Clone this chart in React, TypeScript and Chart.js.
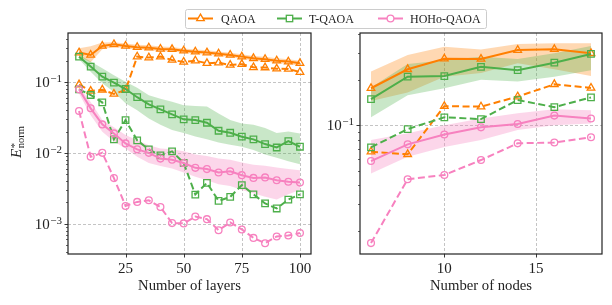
import React, { useEffect, useRef } from "react";
import { Chart, registerables } from "chart.js";
Chart.register(...registerables);

// ---------- data ----------
const layers = [5, 10, 15, 20, 25, 30, 35, 40, 45, 50, 55, 60, 65, 70, 75, 80, 85, 90, 95, 100];
const nodes = [6, 8, 10, 12, 14, 16, 18];
const layerTicks = [25, 50, 75, 100];
const nodeTicks = [10, 15];
const layersYMajor = [0.001, 0.01, 0.1];
const layersYMinor = [0.0004, 0.0005, 0.0006, 0.0007, 0.0008, 0.0009, 0.002, 0.003, 0.004, 0.005, 0.006, 0.007, 0.008, 0.009, 0.02, 0.03, 0.04, 0.05, 0.06, 0.07, 0.08, 0.09, 0.2, 0.3, 0.4];
const nodesYMajor = [0.1];
const nodesYMinor = [0.02, 0.03, 0.04, 0.05, 0.06, 0.07, 0.08, 0.09, 0.2, 0.3, 0.4];
const seriesNames = ["QAOA", "T-QAOA", "HOHo-QAOA"];

// left panel (vs number of layers)
const qaoaLayersMean = [0.26, 0.241, 0.323, 0.34, 0.323, 0.31, 0.305, 0.293, 0.29, 0.277, 0.268, 0.26, 0.251, 0.241, 0.228, 0.216, 0.21, 0.2, 0.194, 0.184];
const qaoaLayersUpper = [0.3, 0.32, 0.36, 0.365, 0.35, 0.335, 0.33, 0.316, 0.312, 0.298, 0.288, 0.28, 0.27, 0.259, 0.246, 0.233, 0.227, 0.216, 0.21, 0.2];
const qaoaLayersLower = [0.225, 0.19, 0.29, 0.315, 0.3, 0.288, 0.282, 0.272, 0.27, 0.258, 0.25, 0.242, 0.234, 0.225, 0.212, 0.201, 0.195, 0.186, 0.18, 0.17];
const qaoaLayersBest = [0.092, 0.0746, 0.0776, 0.068, 0.077, 0.228, 0.221, 0.228, 0.205, 0.192, 0.2, 0.184, 0.187, 0.174, 0.178, 0.161, 0.16, 0.154, 0.153, 0.138];

const tqaoaLayersMean = [0.228, 0.165, 0.119, 0.098, 0.0796, 0.061, 0.0484, 0.041, 0.0349, 0.0297, 0.029, 0.0266, 0.0205, 0.0192, 0.0169, 0.0155, 0.0133, 0.0119, 0.0146, 0.0122];
const tqaoaLayersUpper = [0.245, 0.195, 0.156, 0.125, 0.101, 0.083, 0.065, 0.058, 0.0527, 0.047, 0.046, 0.045, 0.036, 0.029, 0.026, 0.025, 0.0225, 0.019, 0.02, 0.0188];
const tqaoaLayersLower = [0.21, 0.14, 0.096, 0.072, 0.05, 0.04, 0.0306, 0.025, 0.021, 0.019, 0.017, 0.0155, 0.014, 0.013, 0.0122, 0.011, 0.0095, 0.0085, 0.0076, 0.0069];
const tqaoaLayersBest = [0.0788, 0.0655, 0.0516, 0.0155, 0.029, 0.015, 0.0112, 0.0092, 0.0105, 0.0072, 0.00258, 0.00377, 0.0021, 0.00239, 0.0035, 0.0026, 0.00193, 0.00164, 0.00219, 0.0026];

const hohoLayersMean = [0.0788, 0.0425, 0.0252, 0.0188, 0.0136, 0.0112, 0.01, 0.0083, 0.008, 0.0072, 0.00614, 0.0059, 0.00528, 0.0055, 0.00484, 0.00443, 0.0045, 0.00411, 0.0039, 0.0038];
const hohoLayersUpper = [0.086, 0.052, 0.029, 0.023, 0.0178, 0.015, 0.0128, 0.0115, 0.0112, 0.0105, 0.0095, 0.009, 0.0083, 0.008, 0.0073, 0.0068, 0.0066, 0.0062, 0.0059, 0.0057];
const hohoLayersLower = [0.069, 0.034, 0.0198, 0.0145, 0.0115, 0.0088, 0.0072, 0.0065, 0.006, 0.0053, 0.0046, 0.0041, 0.0036, 0.0034, 0.003, 0.0027, 0.0024, 0.0022, 0.0026, 0.003];
const hohoLayersBest = [0.0389, 0.0088, 0.01, 0.0044, 0.00178, 0.00203, 0.00214, 0.00172, 0.00102, 0.00101, 0.00126, 0.00116, 0.00081, 0.00104, 0.00083, 0.00063, 0.00053, 0.00066, 0.00068, 0.00074];

// right panel (vs number of nodes)
const qaoaNodesMean = [0.176, 0.235, 0.276, 0.275, 0.315, 0.319, 0.3];
const qaoaNodesUpper = [0.227, 0.292, 0.332, 0.318, 0.345, 0.35, 0.35];
const qaoaNodesLower = [0.145, 0.165, 0.21, 0.222, 0.258, 0.235, 0.212];
const qaoaNodesBest = [0.0669, 0.0643, 0.134, 0.133, 0.155, 0.187, 0.177];

const tqaoaNodesMean = [0.149, 0.21, 0.212, 0.244, 0.232, 0.26, 0.297];
const tqaoaNodesUpper = [0.178, 0.255, 0.27, 0.285, 0.275, 0.3, 0.335];
const tqaoaNodesLower = [0.113, 0.158, 0.176, 0.2, 0.195, 0.21, 0.232];
const tqaoaNodesBest = [0.0715, 0.0945, 0.113, 0.11, 0.147, 0.132, 0.153];

const hohoNodesMean = [0.058, 0.0748, 0.087, 0.097, 0.102, 0.116, 0.111];
const hohoNodesUpper = [0.08, 0.0885, 0.1, 0.111, 0.12, 0.128, 0.126];
const hohoNodesLower = [0.048, 0.062, 0.072, 0.08, 0.093, 0.1, 0.103];
const hohoNodesBest = [0.0166, 0.044, 0.0469, 0.0589, 0.076, 0.077, 0.0833];

// ---------- style ----------
const ORANGE = "#ff7f00";
const GREEN = "#4daf4a";
const PINK = "#f781bf";
const FONT = '"Liberation Serif", "DejaVu Serif", serif';
const INK = "#222222";

type Series = {
  mean: number[];
  upper: number[];
  lower: number[];
  best: number[];
  color: string;
  band: string;
  style: string;
  radius: number;
  rank: number;
};

function makeSeries(mean: number[], upper: number[], lower: number[], best: number[], k: number): Series {
  const colors = [ORANGE, GREEN, PINK];
  const bands = ["rgba(255,127,0,0.3)", "rgba(77,175,74,0.3)", "rgba(247,129,191,0.32)"];
  const styles = ["triangle", "rect", "circle"];
  const radii = [4.4, 4.6, 3.4];
  return { mean, upper, lower, best, color: colors[k], band: bands[k], style: styles[k], radius: radii[k], rank: 3 - k };
}

function buildDatasets(xs: number[], series: Series[]) {
  const pts = (arr: number[]) => arr.map((y, i) => ({ x: xs[i], y }));
  const ds: any[] = [];
  series.forEach((s) => {
    const base = {
      borderColor: s.color,
      borderWidth: 2,
      pointStyle: s.style,
      pointRadius: s.radius,
      pointBorderColor: s.color,
      pointBackgroundColor: "rgba(0,0,0,0)",
      pointBorderWidth: 1.3,
      fill: false,
      tension: 0,
      order: s.rank,
    };
    ds.push({ ...base, data: pts(s.mean) });
    ds.push({ ...base, data: pts(s.best), borderDash: [7, 3.5] });
  });
  series.forEach((s) => {
    const lowerIndex = ds.length;
    ds.push({ data: pts(s.lower), borderWidth: 0, borderColor: "rgba(0,0,0,0)", pointRadius: 0, fill: false, order: 10 + s.rank });
    ds.push({ data: pts(s.upper), borderWidth: 0, borderColor: "rgba(0,0,0,0)", pointRadius: 0, fill: lowerIndex, backgroundColor: s.band, order: 10 + s.rank });
  });
  return ds;
}

function axesPlugin(xMajor: number[], yMajor: number[], yMinor: number[], withTitle: boolean) {
  return {
    id: "axesDeco",
    beforeDatasetsDraw(chart: any) {
      const { ctx, chartArea: a, scales } = chart;
      ctx.save();
      ctx.strokeStyle = "rgba(176,176,176,0.95)";
      ctx.lineWidth = 0.8;
      ctx.setLineDash([3, 2]);
      xMajor.forEach((v) => {
        const px = Math.round(scales.x.getPixelForValue(v)) + 0.5;
        ctx.beginPath();
        ctx.moveTo(px, a.top);
        ctx.lineTo(px, a.bottom);
        ctx.stroke();
      });
      yMajor.forEach((v) => {
        const py = Math.round(scales.y.getPixelForValue(v)) + 0.5;
        ctx.beginPath();
        ctx.moveTo(a.left, py);
        ctx.lineTo(a.right, py);
        ctx.stroke();
      });
      ctx.restore();
    },
    afterDraw(chart: any) {
      const { ctx, chartArea: a, scales } = chart;
      ctx.save();
      ctx.strokeStyle = INK;
      ctx.lineWidth = 1.2;
      ctx.strokeRect(a.left, a.top, a.right - a.left, a.bottom - a.top);
      ctx.lineWidth = 0.9;
      xMajor.forEach((v) => {
        const px = Math.round(scales.x.getPixelForValue(v)) + 0.5;
        ctx.beginPath();
        ctx.moveTo(px, a.bottom);
        ctx.lineTo(px, a.bottom + 3.5);
        ctx.stroke();
      });
      yMajor.forEach((v) => {
        const py = Math.round(scales.y.getPixelForValue(v)) + 0.5;
        ctx.beginPath();
        ctx.moveTo(a.left, py);
        ctx.lineTo(a.left - 3.5, py);
        ctx.stroke();
      });
      ctx.lineWidth = 0.7;
      yMinor.forEach((v) => {
        const py = Math.round(scales.y.getPixelForValue(v)) + 0.5;
        ctx.beginPath();
        ctx.moveTo(a.left, py);
        ctx.lineTo(a.left - 2, py);
        ctx.stroke();
      });
      // y tick labels: 10^exponent
      ctx.fillStyle = INK;
      ctx.textBaseline = "alphabetic";
      ctx.textAlign = "left";
      yMajor.forEach((v) => {
        const py = scales.y.getPixelForValue(v);
        const e = Math.round(Math.log10(v));
        const sup = (e < 0 ? "\u2212" : "") + String(Math.abs(e));
        ctx.font = `11px ${FONT}`;
        const wSup = ctx.measureText(sup).width;
        ctx.font = `15px ${FONT}`;
        const wBase = ctx.measureText("10").width;
        const right = a.left - 6;
        ctx.fillText("10", right - wSup - wBase - 0.5, py + 5);
        ctx.font = `11px ${FONT}`;
        ctx.fillText(sup, right - wSup, py);
      });
      if (withTitle) {
        ctx.translate(21, 142);
        ctx.rotate(-Math.PI / 2);
        ctx.font = `italic 15px ${FONT}`;
        const wE = ctx.measureText("E").width;
        ctx.font = `10.5px ${FONT}`;
        const wN = ctx.measureText("norm").width;
        const x0 = -(wE + 0.5 + wN) / 2;
        ctx.font = `italic 15px ${FONT}`;
        ctx.fillText("E", x0, 0);
        ctx.font = `10.5px ${FONT}`;
        ctx.fillText("*", x0 + wE + 0.5, -3);
        ctx.fillText("norm", x0 + wE + 0.5, 2.5);
      }
      ctx.restore();
    },
  };
}

function makeConfig(
  xs: number[],
  series: Series[],
  xRange: [number, number],
  xTicks: number[],
  yRange: [number, number],
  yMajor: number[],
  yMinor: number[],
  xTitle: string,
  yWidth: number,
  rightPad: number,
  withTitle: boolean
): any {
  return {
    type: "line",
    data: { datasets: buildDatasets(xs, series) },
    options: {
      animation: false,
      responsive: false,
      events: [],
      layout: { padding: { left: 0, top: 33, right: rightPad, bottom: 0 } },
      plugins: { legend: { display: false }, tooltip: { enabled: false } },
      scales: {
        x: {
          type: "linear",
          min: xRange[0],
          max: xRange[1],
          grid: { display: false, drawTicks: false },
          border: { display: false },
          ticks: { font: { family: FONT, size: 15 }, color: INK, padding: 6, maxRotation: 0 },
          afterBuildTicks: (s: any) => {
            s.ticks = xTicks.map((v) => ({ value: v }));
          },
          afterFit: (s: any) => {
            s.height = 51;
          },
          title: {
            display: true,
            text: xTitle,
            color: INK,
            font: { family: FONT, size: 14.7 },
            padding: { top: 0, bottom: 10 },
          },
        },
        y: {
          type: "logarithmic",
          min: yRange[0],
          max: yRange[1],
          grid: { display: false, drawTicks: false },
          border: { display: false },
          ticks: { display: false },
          afterBuildTicks: (s: any) => {
            s.ticks = yMajor.map((v) => ({ value: v, major: true }));
          },
          afterFit: (s: any) => {
            s.width = yWidth;
          },
        },
      },
    },
    plugins: [axesPlugin(xTicks, yMajor, yMinor, withTitle)],
  };
}

function Legend() {
  const y = 18.5;
  const items = [
    { x: 188, tx: 221, color: ORANGE, m: "tri" },
    { x: 277, tx: 309, color: GREEN, m: "sq" },
    { x: 378, tx: 410, color: PINK, m: "ci" },
  ];
  return (
    <svg
      width={612}
      height={40}
      style={{ position: "absolute", left: 0, top: 0, pointerEvents: "none" }}
    >
      <rect x={185.5} y={9.5} width={301} height={19} rx={2} fill="rgba(255,255,255,0.85)" stroke="#cccccc" strokeWidth={1} />
      {items.map((it, i) => {
        const cx = it.x + 12.5;
        let marker;
        if (it.m === "tri") {
          const r = 4.4;
          const p = [0, 1, 2]
            .map((k) => {
              const ang = (k * 2 * Math.PI) / 3;
              return `${cx + Math.sin(ang) * r},${y - Math.cos(ang) * r}`;
            })
            .join(" ");
          marker = <polygon points={p} fill="white" stroke={it.color} strokeWidth={1.3} />;
        } else if (it.m === "sq") {
          marker = <rect x={cx - 3.2} y={y - 3.2} width={6.4} height={6.4} fill="white" stroke={it.color} strokeWidth={1.3} />;
        } else {
          marker = <circle cx={cx} cy={y} r={3.4} fill="white" stroke={it.color} strokeWidth={1.3} />;
        }
        return (
          <g key={i}>
            <line x1={it.x} y1={y} x2={it.x + 25} y2={y} stroke={it.color} strokeWidth={2} />
            {marker}
            <text x={it.tx} y={22.7} fontFamily={FONT} fontSize={12} fill={INK}>
              {seriesNames[i]}
            </text>
          </g>
        );
      })}
    </svg>
  );
}

export default function App() {
  const leftRef = useRef<HTMLCanvasElement>(null);
  const rightRef = useRef<HTMLCanvasElement>(null);

  useEffect(() => {
    const leftSeries = [
      makeSeries(qaoaLayersMean, qaoaLayersUpper, qaoaLayersLower, qaoaLayersBest, 0),
      makeSeries(tqaoaLayersMean, tqaoaLayersUpper, tqaoaLayersLower, tqaoaLayersBest, 1),
      makeSeries(hohoLayersMean, hohoLayersUpper, hohoLayersLower, hohoLayersBest, 2),
    ];
    const rightSeries = [
      makeSeries(qaoaNodesMean, qaoaNodesUpper, qaoaNodesLower, qaoaNodesBest, 0),
      makeSeries(tqaoaNodesMean, tqaoaNodesUpper, tqaoaNodesLower, tqaoaNodesBest, 1),
      makeSeries(hohoNodesMean, hohoNodesUpper, hohoNodesLower, hohoNodesBest, 2),
    ];
    const left = new Chart(
      leftRef.current as HTMLCanvasElement,
      makeConfig(layers, leftSeries, [0.25, 104.75], layerTicks, [3.735e-4, 0.4915], layersYMajor, layersYMinor, "Number of layers", 68, 9, true)
    );
    const right = new Chart(
      rightRef.current as HTMLCanvasElement,
      makeConfig(nodes, rightSeries, [5.4, 18.6], nodeTicks, [0.01406, 0.4087], nodesYMajor, nodesYMinor, "Number of nodes", 40, 10, false)
    );
    return () => {
      left.destroy();
      right.destroy();
    };
  }, []);

  return (
    <div style={{ position: "absolute", left: 0, top: 0, width: 612, height: 305, background: "white" }}>
      <canvas ref={leftRef} width={320} height={305} style={{ position: "absolute", left: 0, top: 0, width: 320, height: 305 }} />
      <canvas ref={rightRef} width={292} height={305} style={{ position: "absolute", left: 320, top: 0, width: 292, height: 305 }} />
      <Legend />
    </div>
  );
}
